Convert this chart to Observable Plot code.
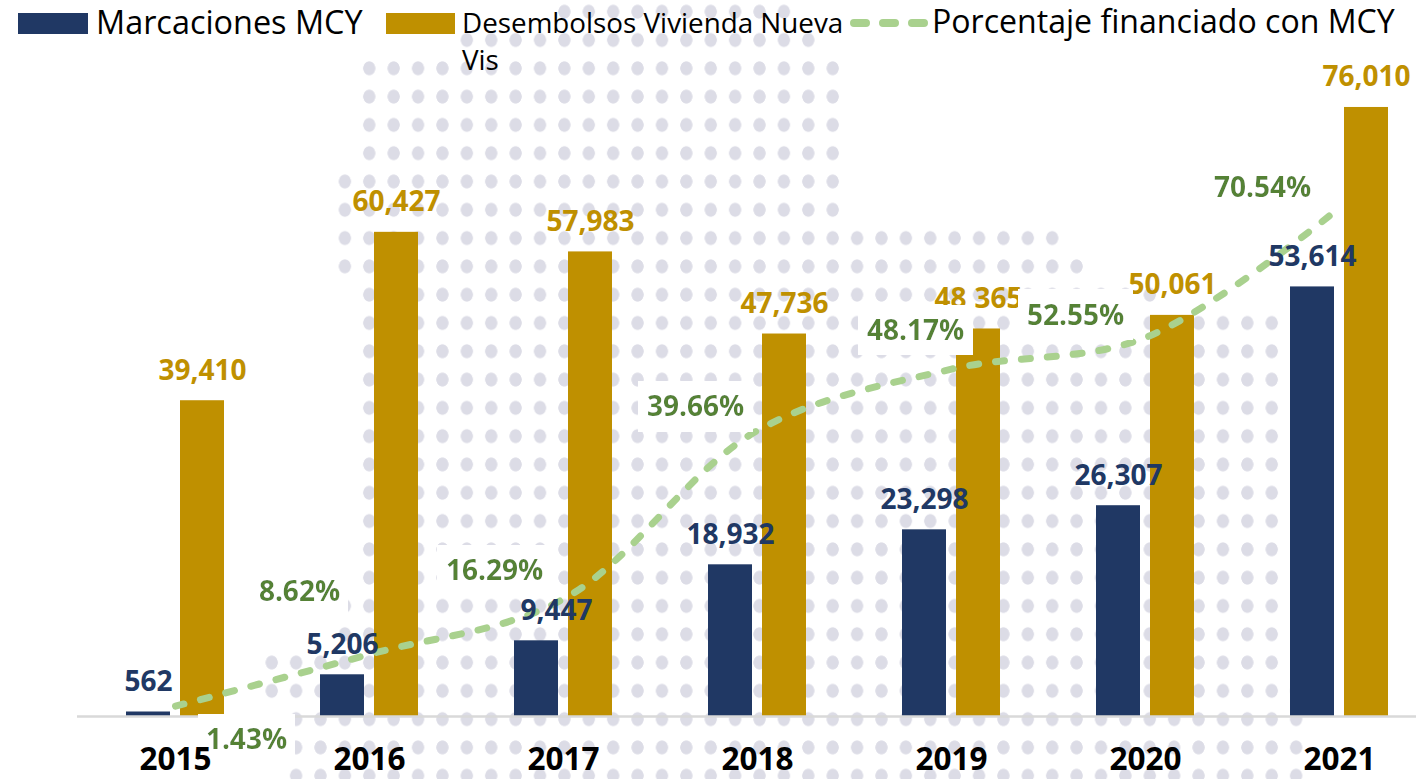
<!DOCTYPE html>
<html>
<head>
<meta charset="utf-8">
<script src="https://cdn.jsdelivr.net/npm/d3@7"></script>
<script src="https://cdn.jsdelivr.net/npm/@observablehq/plot@0.6"></script>
<style>
  html, body { margin: 0; padding: 0; background: #fff; }
  #wrap { position: relative; width: 1416px; height: 779px; overflow: hidden; font-family: 'Open Sans', sans-serif; }
  #dots {
    position: absolute; left: 0; top: 0; width: 1416px; height: 779px; z-index: 0;
    background-image: radial-gradient(6.4px 7.3px at 50% 50%, #dcdce6 90%, rgba(220,220,230,0) 100%);
    background-size: 24.4px 28.3px;
    background-position: 332.7px -2.45px;
    clip-path: polygon(552px 0px, 796px 0px, 796px 26px, 821px 26px, 821px 54px, 845px 54px, 845px 224px,
      1065px 224px, 1065px 252px, 1089px 252px, 1089px 281px, 1162px 281px, 1162px 309px,
      1284px 309px, 1284px 677px, 1308px 677px, 1308px 779px, 284px 779px, 284px 705px,
      259.5px 705px, 259.5px 648.5px, 332.7px 648.5px, 332.7px 592.5px, 357px 592.5px,
      357px 280.5px, 332.7px 280.5px, 332.7px 167.4px, 357px 167.4px, 357px 54px,
      454.7px 54px, 454.7px 26px, 552px 26px);
  }
  #chart { position: absolute; left: 0; top: 0; z-index: 1; }
  #legend { position: absolute; left: 0; top: 0; width: 1416px; height: 80px; z-index: 2; pointer-events: none; }
  .sw { position: absolute; }
  .lt { position: absolute; white-space: nowrap; color: #000; line-height: 1.3; }
</style>
</head>
<body>
<div id="wrap">
  <div id="dots"></div>
  <div id="chart"></div>
  <div id="legend">
    <div class="sw" style="left:18px;top:13px;width:70px;height:21px;background:#203864"></div>
    <div class="lt" style="left:96px;top:0px;font-size:32.4px">Marcaciones MCY</div>
    <div class="sw" style="left:386px;top:13px;width:69px;height:21px;background:#bf9000"></div>
    <div class="lt" style="left:462px;top:4px;font-size:27.8px;line-height:37px;white-space:normal;width:388px">Desembolsos Vivienda Nueva Vis</div>
    <svg class="sw" style="left:850px;top:15px" width="82" height="16">
      <line x1="4" y1="8" x2="78" y2="8" stroke="#a9d18e" stroke-width="8" stroke-dasharray="12 17" stroke-linecap="round"/>
    </svg>
    <div class="lt" style="left:932px;top:0px;font-size:32.1px">Porcentaje financiado con MCY</div>
  </div>
</div>
<script>
// ---- data ----
const years = ["2015", "2016", "2017", "2018", "2019", "2020", "2021"];
const marcaciones = [562, 5206, 9447, 18932, 23298, 26307, 53614];
const desembolsos = [39410, 60427, 57983, 47736, 48365, 50061, 76010];
const porcentaje = [1.43, 8.62, 16.29, 39.66, 48.17, 52.55, 70.54];

// ---- layout (label nudges in px) ----
const pctOffsets = [[71, 34], [-70, -62], [-69, -28], [-62, -23], [-36, -38], [-70, -22], [-77, -20]];
const navyDx = [0, 0, 20, 0, 0, 0, 0];

const NAVY = "#203864", GOLD = "#bf9000", LINE = "#a9d18e", GREEN = "#548235";
const table = years.map((y, i) => ({year: y, marc: marcaciones[i], des: desembolsos[i], pct: porcentaje[i]}));
// secondary axis: 0–100% aligned with 0–90,000 of primary axis
const pctToY = p => p / 100 * 90000;
const fmt = d3.format(",");

const marks = [
  Plot.barY(table, {x: "year", y: "marc", fill: NAVY, insetRight: 54}),
  Plot.barY(table, {x: "year", y: "des", fill: GOLD, insetLeft: 54}),
  Plot.ruleY([0], {stroke: "#d9d9d9", strokeWidth: 2.5}),
  Plot.line(table, {x: "year", y: d => pctToY(d.pct), curve: "catmull-rom", stroke: LINE,
    strokeWidth: 7, strokeDasharray: "9,17", strokeLinecap: "round"}),
  Plot.text(table, {x: "year", y: "des", text: d => fmt(d.des), dx: 27, dy: -30,
    fill: GOLD, fontSize: 28, fontWeight: 700}),
  ...table.map((d, i) => Plot.text([d], {x: "year", y: "marc", text: v => fmt(v.marc), dx: -27 + navyDx[i], dy: -30,
    fill: NAVY, fontSize: 28, fontWeight: 700})),
  ...table.map((d, i) => Plot.text([d], {x: "year", y: v => pctToY(v.pct), text: v => v.pct.toFixed(2) + "%",
    dx: pctOffsets[i][0], dy: pctOffsets[i][1], fill: GREEN, fontSize: 28, fontWeight: 700,
    ariaDescription: "pct-label"})),
  Plot.text(years, {x: d => d, y: () => 0, text: d => d, dy: 43, fill: "#000", fontSize: 31.5, fontWeight: 700})
];

const chart = Plot.plot({
  width: 1416,
  height: 779,
  marginTop: 75,
  marginBottom: 63,
  marginLeft: 77,
  marginRight: 0,
  style: {fontFamily: "'Open Sans', sans-serif", background: "transparent", overflow: "visible"},
  x: {type: "band", domain: years, range: [78, 1436], paddingInner: 96 / 194, paddingOuter: 48 / 194, axis: null},
  y: {domain: [0, 80000], axis: null},
  marks
});

// white boxes behind percentage labels
const svg = d3.select(chart.tagName.toLowerCase() === "svg" ? chart : chart.querySelector("svg"));
const defs = svg.insert("defs", ":first-child");
const f = defs.append("filter").attr("id", "wbg")
  .attr("x", -0.09).attr("y", -0.12).attr("width", 1.18).attr("height", 1.3);
f.append("feFlood").attr("flood-color", "white").attr("result", "bg");
f.append("feComposite").attr("in", "SourceGraphic").attr("in2", "bg").attr("operator", "over");
svg.selectAll('g[aria-description="pct-label"] text').attr("filter", "url(#wbg)");

document.getElementById("chart").appendChild(chart);
</script>
</body>
</html>
